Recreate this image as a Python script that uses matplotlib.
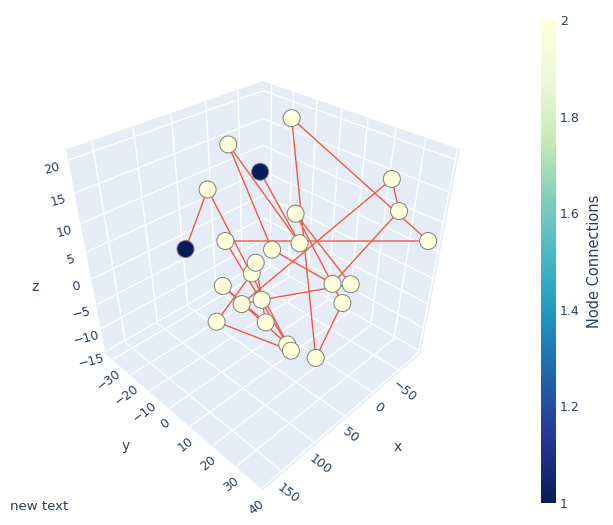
import numpy as np
import matplotlib
matplotlib.use('Agg')
import matplotlib.pyplot as plt
from matplotlib.colors import LinearSegmentedColormap, Normalize
from matplotlib.cm import ScalarMappable

# node positions (x, y, z)
node_x = [-62.6, 13.7, -4.1, 69.2, -43.6, -44.7, 9.3, -76.8, 78.6, 23.5, 34.6, 50.7, 57.9,
          82.8, 0.8, -12.7, 74.4, 86.9, -7.6, 110.8, 87.6, 79.7, 79.8, 56.5, 111.9]
node_y = [-13.3, -19.9, -11.1, -12.3, 29.2, 32.7, 7.4, 38.4, -2.4, 12.8, 4.7, 2.2, 2.5,
          -3.1, 21.1, 25.1, 11.3, 6.4, 23.7, 2.4, 16.6, 23.2, 24.7, 28.8, -9.5]
node_z = [19.3, 17.2, 13.3, 13.9, 17.5, 13.1, 10.5, 7.4, 7.9, 7.5, 5.2, 3.3, 1.9,
          -0.1, 0.7, 0.7, 0.6, -0.6, -2.9, -3.2, -1.0, -3.8, -4.5, -6.7, 7.0]

# edges between node indices
edge_src = [2, 9, 1, 10, 14, 5, 4, 17, 16, 15, 6, 18, 23, 0, 7, 8, 21, 13, 20, 11, 12, 19, 22, 3]
edge_dst = [9, 1, 10, 14, 5, 4, 17, 16, 15, 6, 18, 23, 0, 7, 8, 21, 13, 20, 11, 12, 19, 22, 3, 24]

x_ticks = [-50, 0, 50, 100, 150]
y_ticks = [-30, -20, -10, 0, 10, 20, 30, 40]
z_ticks = [-15, -10, -5, 0, 5, 10, 15, 20]
cb_ticks = [1, 1.2, 1.4, 1.6, 1.8, 2]
cb_labels = ['1', '1.2', '1.4', '1.6', '1.8', '2']

x_range = (-91.5, 178)
y_range = (-34, 40.5)
z_range = (-15.5, 21.5)

node_x = np.array(node_x)
node_y = np.array(node_y)
node_z = np.array(node_z)
degree = np.bincount(edge_src + edge_dst, minlength=len(node_x))

ylgnbu = LinearSegmentedColormap.from_list('ylgnbu', [
    (8/255, 29/255, 88/255), (37/255, 52/255, 148/255), (34/255, 94/255, 168/255),
    (29/255, 145/255, 192/255), (65/255, 182/255, 196/255), (127/255, 205/255, 187/255),
    (199/255, 233/255, 180/255), (237/255, 248/255, 217/255), (255/255, 255/255, 217/255)])
norm = Normalize(1, 2)
txt_col = '#2a3f5f'

W, H = 613, 525
fig = plt.figure(figsize=(W/100, H/100), dpi=100)
side = 414.3
ax = fig.add_axes([(263 - 0.5135*side)/W, (262 - 0.5135*side)/H, side/W, side/H],
                  projection='3d', computed_zorder=False)
ax.set_proj_type('persp', focal_length=0.2858)
ax.view_init(elev=35.264, azim=45)
ax.set_box_aspect((1, 1, 1))
ax.set_xlim(*x_range)
ax.set_ylim(*y_range)
ax.set_zlim(*z_range)

for s, d in zip(edge_src, edge_dst):
    ax.plot([node_x[s], node_x[d]], [node_y[s], node_y[d]], [node_z[s], node_z[d]],
            color='#ef5a43', lw=1.0, zorder=1)

ax.scatter(node_x, node_y, node_z, s=150, c=degree, cmap=ylgnbu, norm=norm,
           edgecolors='#7f7f7f', linewidths=0.7, depthshade=False, alpha=1, zorder=2)

ax.set_xticks(x_ticks)
ax.set_yticks(y_ticks)
ax.set_zticks(z_ticks)
for axis in (ax.xaxis, ax.yaxis, ax.zaxis):
    axis.set_pane_color('#E5ECF6')
    axis._axinfo['grid']['color'] = 'white'
    axis._axinfo['grid']['linewidth'] = 1.0
    axis._axinfo['tick']['inward_factor'] = 0
    axis._axinfo['tick']['outward_factor'] = 0
    axis.line.set_color((1, 1, 1, 0))
ax.tick_params(axis='x', colors=txt_col, labelsize=9, pad=-4, labelrotation=-38)
ax.tick_params(axis='y', colors=txt_col, labelsize=9, pad=-4, labelrotation=38)
ax.tick_params(axis='z', colors=txt_col, labelsize=9, pad=-1, labelrotation=15)

# axis titles
fig.text(398/W, 1 - 447/H, 'x', color=txt_col, fontsize=10, ha='center', va='center')
fig.text(126/W, 1 - 446/H, 'y', color=txt_col, fontsize=10, ha='center', va='center')
fig.text(35/W, 1 - 287/H, 'z', color=txt_col, fontsize=10, ha='center', va='center')

cax = fig.add_axes([541/W, 22/H, 15/W, 483/H])
cb = fig.colorbar(ScalarMappable(norm=norm, cmap=ylgnbu), cax=cax, ticks=cb_ticks)
cb.outline.set_visible(False)
cb.ax.set_yticklabels(cb_labels)
cax.tick_params(length=0, labelsize=9, colors=txt_col, pad=3)
cb.set_label('Node Connections', fontsize=10.5, color=txt_col, labelpad=5)

fig.text(10/W, 1 - 507/H, 'new text', fontsize=9.5, color=txt_col, va='center')

fig.savefig('out.png', dpi=100)
